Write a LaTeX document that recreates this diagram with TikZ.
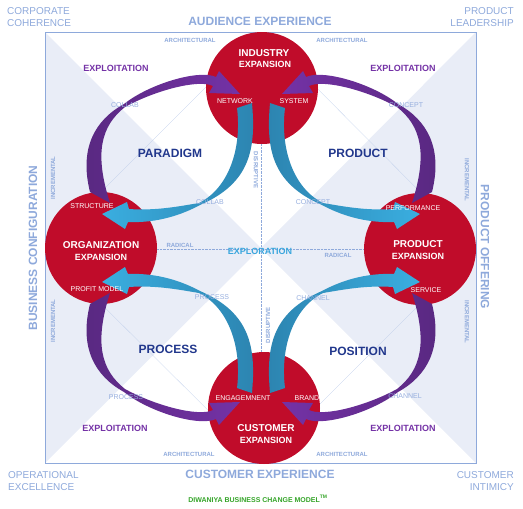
\documentclass[tikz,border=0pt]{standalone}
\usepackage{fontspec}
\setmainfont{Liberation Sans}
\usetikzlibrary{calc}
\definecolor{frameblue}{RGB}{142,169,219}
\definecolor{paleblue}{RGB}{233,237,247}
\definecolor{tagblue}{RGB}{150,174,222}
\definecolor{crimson}{RGB}{192,12,42}
\definecolor{navy}{RGB}{33,55,140}
\definecolor{plumlight}{RGB}{116,50,166}
\definecolor{plumdark}{RGB}{88,40,128}
\definecolor{skylight}{RGB}{58,174,224}
\definecolor{skydark}{RGB}{44,132,176}
\definecolor{explblue}{RGB}{58,166,221}
\definecolor{modelgreen}{RGB}{52,164,40}

\tikzset{
  hub/.style={circle, fill=crimson, minimum size=112pt, inner sep=0pt},
  hubtitle/.style={text=white, font=\fontsize{10}{12}\selectfont\bfseries, inner sep=0pt},
  hubsub/.style={text=white, font=\fontsize{9}{11}\selectfont\bfseries, inner sep=0pt},
  port/.style={text=white, font=\fontsize{7}{8}\selectfont, inner sep=0pt},
  tag/.style={text=tagblue, font=\fontsize{7}{8}\selectfont, inner sep=0pt},
  tiny/.style={text=frameblue, font=\fontsize{6}{7}\selectfont\bfseries, inner sep=0pt},
  quad/.style={text=navy, font=\fontsize{12}{14}\selectfont\bfseries, inner sep=0pt},
  exploit/.style={text=plumlight, font=\fontsize{9}{11}\selectfont\bfseries, inner sep=0pt},
  corner/.style={text=frameblue, font=\fontsize{10}{12}\selectfont, inner sep=0pt},
  side/.style={text=frameblue, font=\fontsize{12}{14}\selectfont\bfseries, inner sep=0pt},
}

\begin{document}
\begin{tikzpicture}[x=1pt,y=-1pt]
  \useasboundingbox (0,0) rectangle (523,509);

  % background
  \fill[paleblue] (45,32) -- (261,248) -- (45,463) -- cycle;
  \fill[paleblue] (476,32) -- (261,248) -- (476,463) -- cycle;
  \draw[frameblue!60, very thin] (261,32) -- (45,248) -- (261,463) -- (476,248) -- cycle;
  \draw[frameblue, densely dotted] (261,32) -- (261,463);
  \draw[frameblue, densely dotted] (45,249) -- (476,249);
  \draw[frameblue] (45,32) rectangle (476,463);

  % hubs
  \node[hub] (industry) at (262,88) {};
  \node[hub] (organization) at (101,248) {};
  \node[hub] (product) at (420,249) {};
  \node[hub] (customer) at (264,408) {};

  % loops, one per quadrant
  \foreach \sx/\sy in {1/1,-1/1,1/-1,-1/-1}{
    \begin{scope}[transform canvas={shift={(261,248)},xscale=\sx,yscale=\sy}]
      \shade[left color=plumdark, right color=plumlight]
        (-171,-56) .. controls (-182,-100) and (-166,-128) .. (-137,-144)
        .. controls (-112,-164) and (-62,-179) .. (-45,-171)
        -- (-42,-177) -- (-21,-154) -- (-52,-155) -- (-48,-162)
        .. controls (-62,-169) and (-105,-158) .. (-136,-141)
        .. controls (-160,-122) and (-167,-95) .. (-151,-45) -- cycle;
      \shade[left color=skylight, right color=skydark]
        (-24,-140) -- (-9,-145)
        .. controls (-5,-100) and (-10,-65) .. (-61,-43)
        .. controls (-85,-30) and (-110,-25) .. (-133,-26)
        -- (-136,-19) -- (-159,-34) -- (-134,-46) -- (-132,-39)
        .. controls (-105,-37) and (-80,-42) .. (-62,-45)
        .. controls (-32,-60) and (-19,-100) .. (-24,-140) -- cycle;
    \end{scope}
  }

  % hub texts
  \node[hubtitle] (industryA) at (264,53) {INDUSTRY};
  \node[hubsub] (industryB) at (265,64) {EXPANSION};
  \node[port] (network) at (235,101) {NETWORK};
  \node[port] (system) at (294,101) {SYSTEM};
  \node[hubtitle] (organizationA) at (101,245) {ORGANIZATION};
  \node[hubsub] (organizationB) at (101,257) {EXPANSION};
  \node[port] (structure) at (92,206) {STRUCTURE};
  \node[port] (profit) at (97,289) {PROFIT MODEL};
  \node[hubtitle] (productA) at (418,244) {PRODUCT};
  \node[hubsub] (productB) at (418,256) {EXPANSION};
  \node[port] (performance) at (413,208) {PERFORMANCE};
  \node[port] (service) at (426,290) {SERVICE};
  \node[hubtitle] (customerA) at (266,428) {CUSTOMER};
  \node[hubsub] (customerB) at (266,440) {EXPANSION};
  \node[port] (engagement) at (243,398) {ENGAGEMNENT};
  \node[port] (brand) at (307,398) {BRAND};

  % loop tags
  \node[tag] (collabA) at (125,105) {COLLAB};
  \node[tag] (collabB) at (210,202) {COLLAB};
  \node[tag] (conceptA) at (406,105) {CONCEPT};
  \node[tag] (conceptB) at (313,202) {CONCEPT};
  \node[tag] (processA) at (212,297) {PROCESS};
  \node[tag] (processB) at (126,397) {PROCESS};
  \node[tag] (channelA) at (313,298) {CHANNEL};
  \node[tag] (channelB) at (405,396) {CHANNEL};

  % quadrant names
  \node[quad] (paradigm) at (170,153) {PARADIGM};
  \node[quad] (productQ) at (358,153) {PRODUCT};
  \node[quad] (process) at (168,349) {PROCESS};
  \node[quad] (position) at (358,351) {POSITION};
  \node[exploit] (exploitA) at (116,68) {EXPLOITATION};
  \node[exploit] (exploitB) at (403,68) {EXPLOITATION};
  \node[exploit] (exploitC) at (115,428) {EXPLOITATION};
  \node[exploit] (exploitD) at (403,428) {EXPLOITATION};
  \node[text=explblue, font=\fontsize{9}{11}\selectfont\bfseries, inner sep=0pt] (exploration) at (260,251) {EXPLORATION};

  % axis words
  \node[tiny] (archA) at (190,40) {ARCHITECTURAL};
  \node[tiny] (archB) at (342,40) {ARCHITECTURAL};
  \node[tiny] (archC) at (189,454) {ARCHITECTURAL};
  \node[tiny] (archD) at (342,454) {ARCHITECTURAL};
  \node[tiny, rotate=90] (incrA) at (53,178) {INCREMENTAL};
  \node[tiny, rotate=90] (incrB) at (53,321) {INCREMENTAL};
  \node[tiny, rotate=-90] (incrC) at (467,180) {INCREMENTAL};
  \node[tiny, rotate=-90] (incrD) at (467,322) {INCREMENTAL};
  \node[tiny, rotate=-90] (disrA) at (256,170) {DISRUPTIVE};
  \node[tiny, rotate=90] (disrB) at (268,325) {DISRUPTIVE};
  \node[tiny] (radA) at (180,245) {RADICAL};
  \node[tiny] (radB) at (338,255) {RADICAL};

  % outer words
  \node[side, anchor=base] (audience) at (260,25) {AUDIENCE EXPERIENCE};
  \node[side, anchor=base] (custexp) at (260,478) {CUSTOMER EXPERIENCE};
  \node[side, rotate=90] (business) at (33,248) {BUSINESS CONFIGURATION};
  \node[side, rotate=-90] (offering) at (485,247) {PRODUCT OFFERING};
  \node[corner, anchor=base west, align=left] (coherence) at (7,26) {CORPORATE\\COHERENCE};
  \node[corner, anchor=base east, align=right] (leadership) at (514,26) {PRODUCT\\LEADERSHIP};
  \node[corner, anchor=base west, align=left] (excellence) at (8,490) {OPERATIONAL\\EXCELLENCE};
  \node[corner, anchor=base east, align=right] (intimacy) at (514,490) {CUSTOMER\\INTIMICY};
  \node[text=modelgreen, font=\fontsize{7}{8}\selectfont\bfseries, anchor=base, inner sep=0pt] (model) at (258,502) {DIWANIYA BUSINESS CHANGE MODEL\textsuperscript{TM}};
\end{tikzpicture}
\end{document}
